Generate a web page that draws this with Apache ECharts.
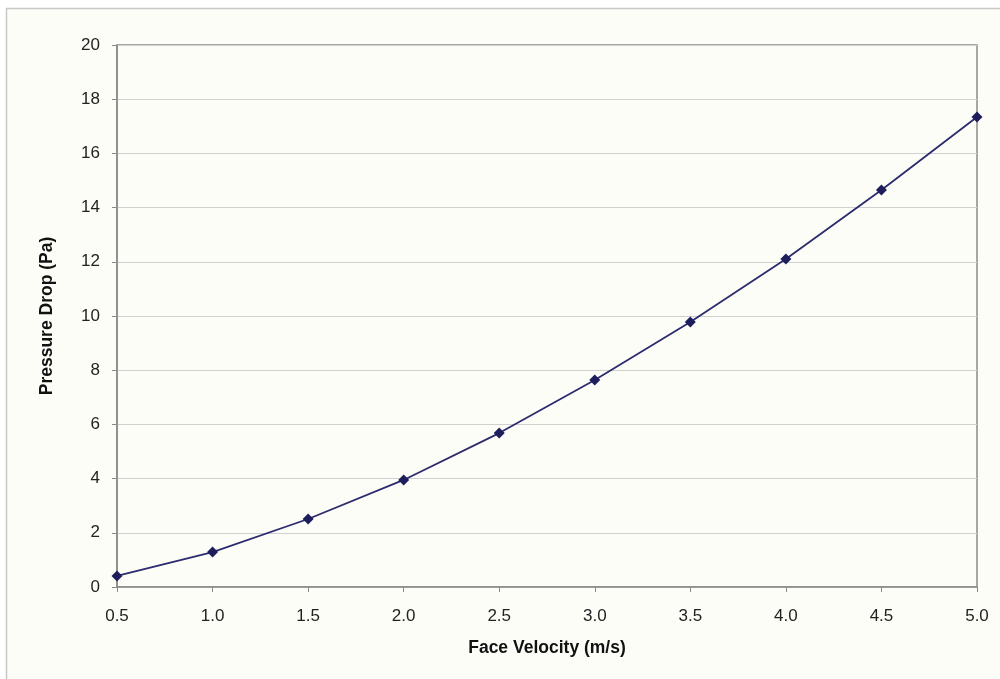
<!DOCTYPE html>
<html><head><meta charset="utf-8">
<script src="https://cdn.jsdelivr.net/npm/echarts@6/dist/echarts.min.js"></script>
<style>html,body{margin:0;padding:0;background:#fff}#c{width:1000px;height:679px}</style>
</head><body><div id="c"></div>
<script>
const velocities = [0.5, 1.0, 1.5, 2.0, 2.5, 3.0, 3.5, 4.0, 4.5, 5.0];
const pressureDrop = [0.41, 1.29, 2.51, 3.95, 5.68, 7.64, 9.78, 12.10, 14.65, 17.34];
const xTitle = 'Face Velocity (m/s)';
const yTitle = 'Pressure Drop (Pa)';

const chart = echarts.init(document.getElementById('c'));
chart.setOption({
  animation: false,
  backgroundColor: '#ffffff',
  graphic: [{
    type: 'rect', z: -10, silent: true,
    shape: { x: 6.5, y: 8.5, width: 1100, height: 800 },
    style: { fill: '#fdfdf8', stroke: '#c8c8c8', lineWidth: 1.5 }
  }],
  grid: { left: 117, top: 45, right: 23, bottom: 92, show: true, borderColor: '#8a8a8a', borderWidth: 1.5, backgroundColor: 'transparent' },
  xAxis: {
    type: 'value', min: 0.5, max: 5.0, interval: 0.5,
    name: xTitle, nameLocation: 'middle', nameGap: 52,
    nameTextStyle: { fontFamily: 'Liberation Sans', fontSize: 17.5, fontWeight: 'bold', color: '#111' },
    axisLine: { show: true, lineStyle: { color: '#8a8a8a', width: 1.5 } },
    axisTick: { show: true, length: 5, lineStyle: { color: '#8a8a8a' } },
    axisLabel: { fontFamily: 'Liberation Sans', fontSize: 17, color: '#222', margin: 21, formatter: v => v.toFixed(1) },
    splitLine: { show: false }
  },
  yAxis: {
    type: 'value', min: 0, max: 20, interval: 2,
    name: yTitle, nameLocation: 'middle', nameGap: 61,
    nameTextStyle: { fontFamily: 'Liberation Sans', fontSize: 17.5, fontWeight: 'bold', color: '#111' },
    axisLine: { show: true, lineStyle: { color: '#8a8a8a', width: 1.5 } },
    axisTick: { show: true, length: 5, lineStyle: { color: '#8a8a8a' } },
    axisLabel: { fontFamily: 'Liberation Sans', fontSize: 17, color: '#222', margin: 17 },
    splitLine: { show: true, lineStyle: { color: '#d0d0d0', width: 1 } }
  },
  series: [{
    type: 'line',
    data: velocities.map((v, i) => [v, pressureDrop[i]]),
    symbol: 'diamond', symbolSize: 11,
    lineStyle: { color: '#2b2b6e', width: 1.8 },
    itemStyle: { color: '#1e1e5c' }
  }]
});
</script></body></html>
